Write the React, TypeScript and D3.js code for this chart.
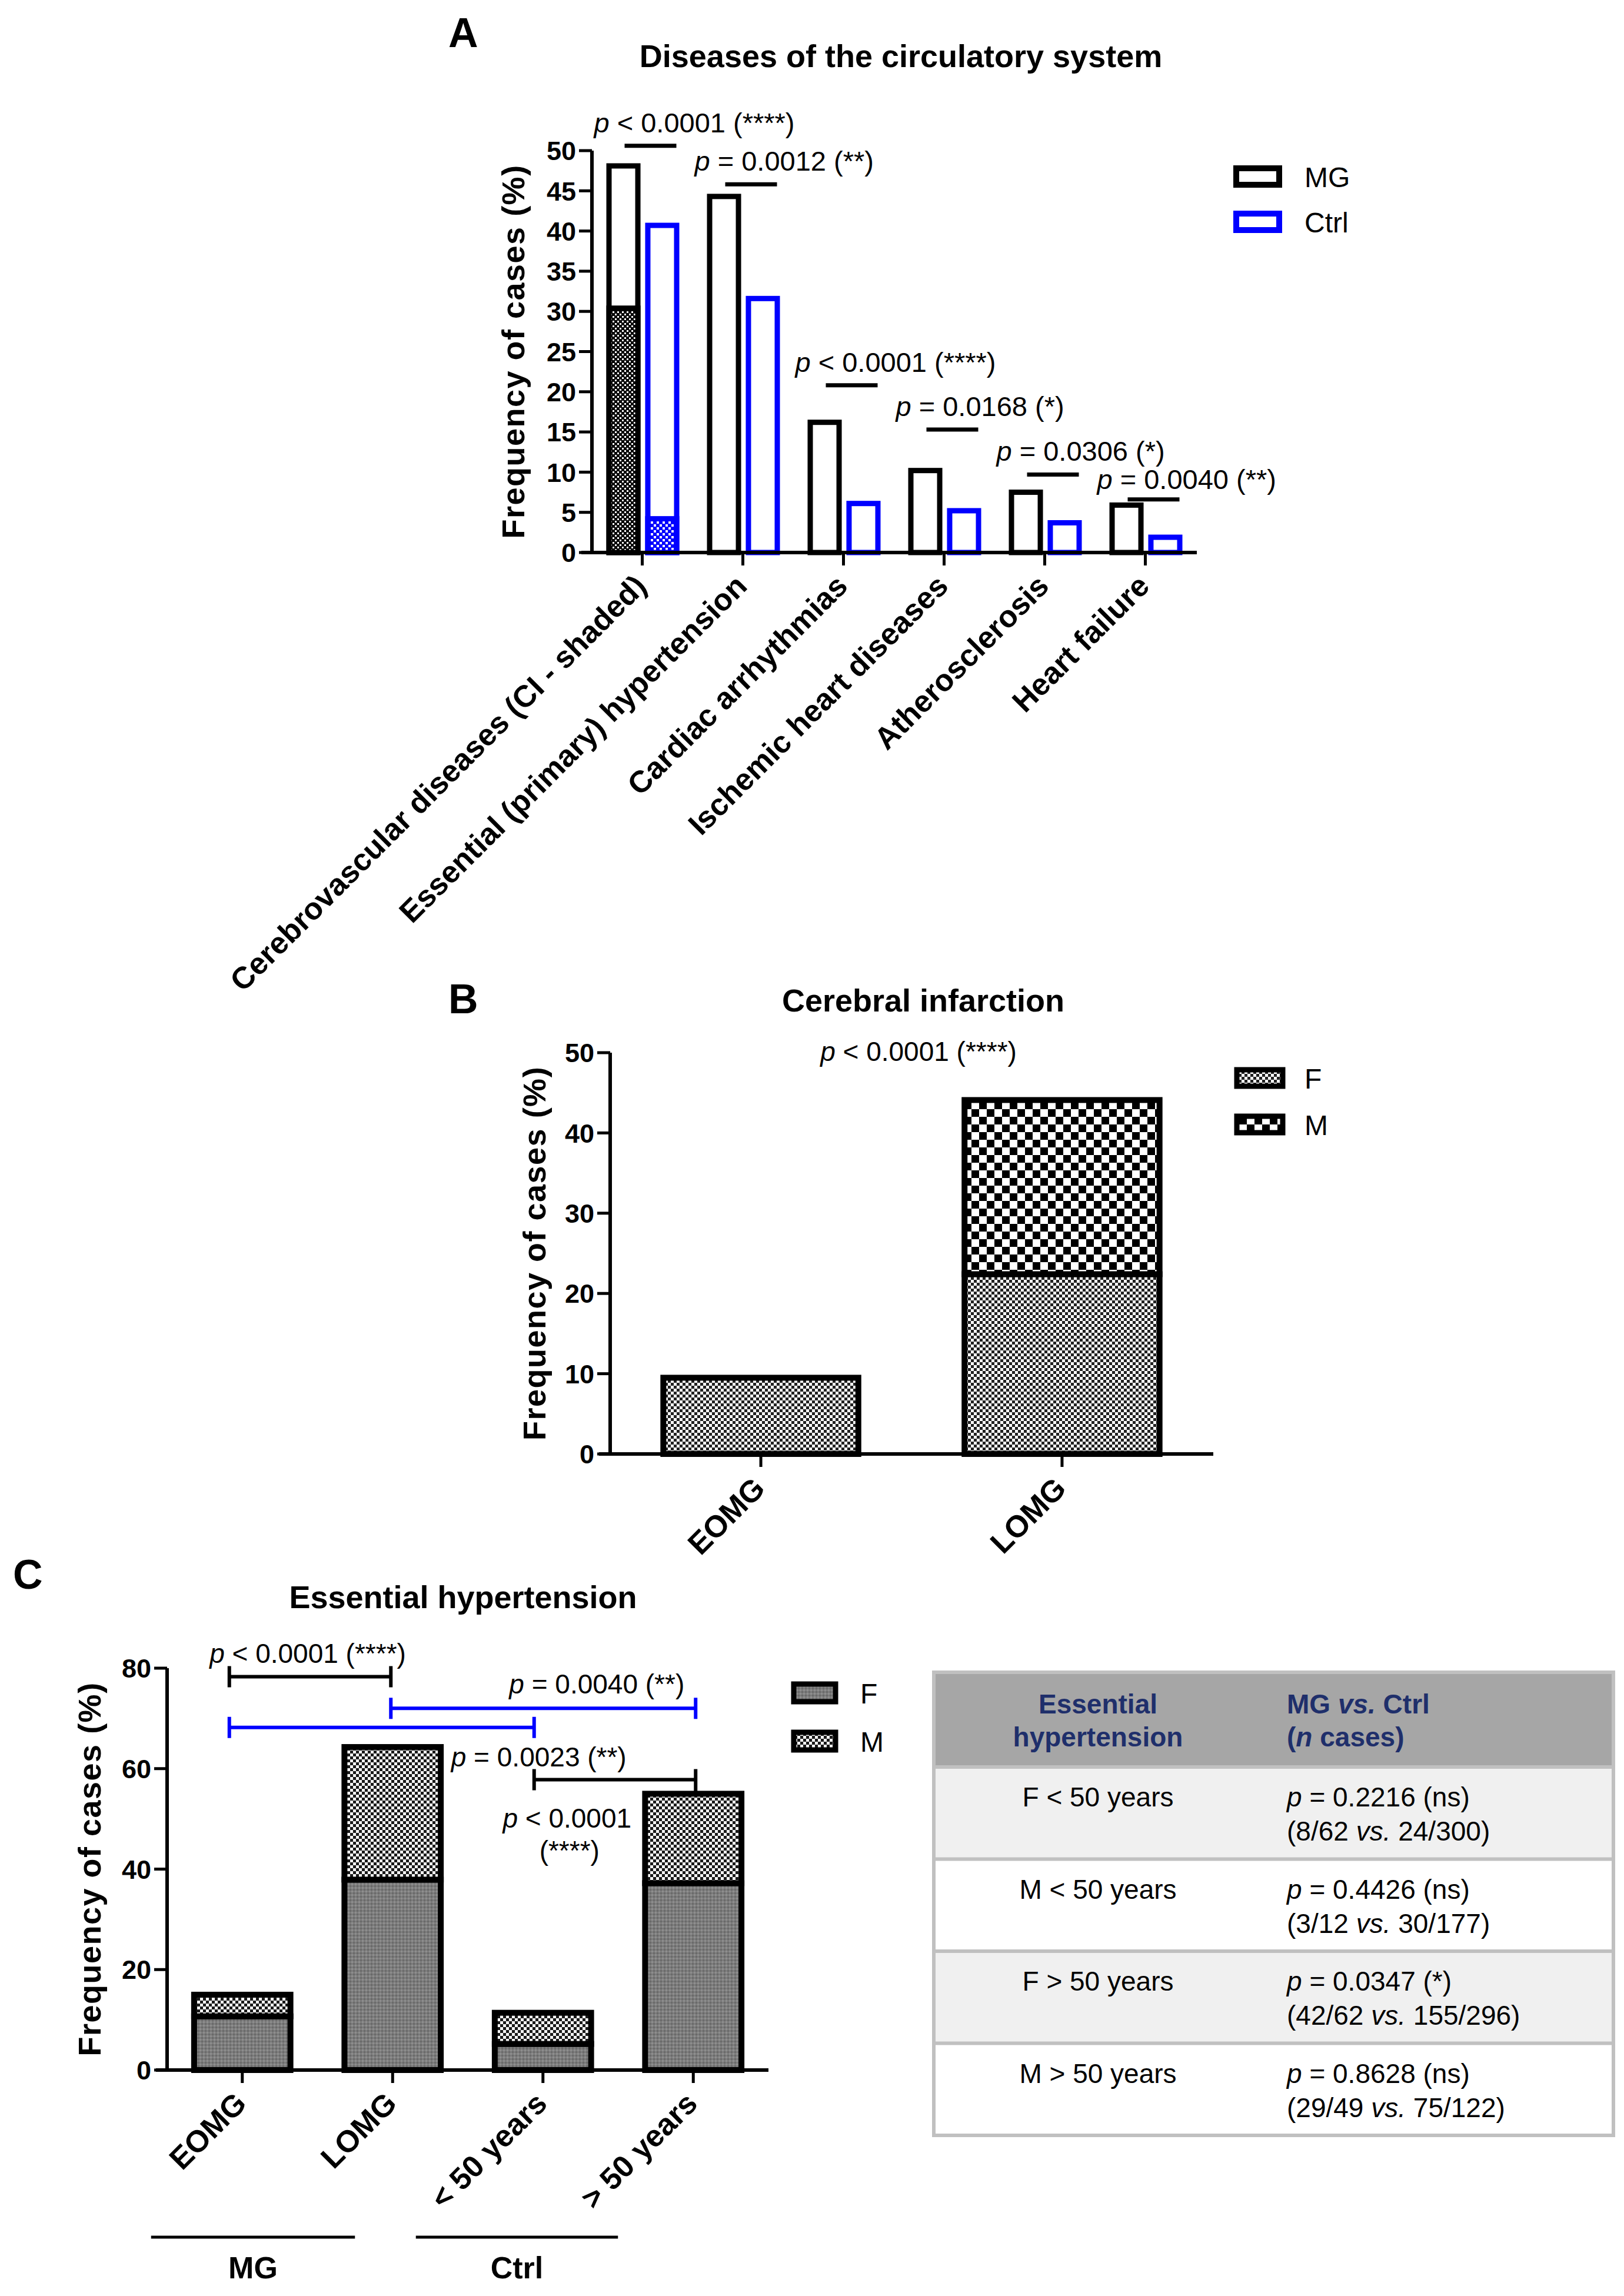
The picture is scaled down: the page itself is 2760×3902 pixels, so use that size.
import React from "react";
import * as d3 from "d3";

// ---------------- Panel A data ----------------
const diseaseCategories = [
  "Cerebrovascular diseases (CI - shaded)",
  "Essential (primary) hypertension",
  "Cardiac arrhythmias",
  "Ischemic heart diseases",
  "Atherosclerosis",
  "Heart failure",
];
const seriesA = ["MG", "Ctrl"];
const mgFrequency = [48.1, 44.3, 16.2, 10.2, 7.5, 5.9];
const ctrlFrequency = [40.7, 31.6, 6.1, 5.2, 3.7, 1.9];
const ciShadedMG = 30.4;
const ciShadedCtrl = 4.2;
const pTextA = ["< 0.0001 (****)", "= 0.0012 (**)", "< 0.0001 (****)", "= 0.0168 (*)", "= 0.0306 (*)", "= 0.0040 (**)"];
const pLineA = [50.6, 45.8, 20.8, 15.3, 9.7, 6.6];
const ticksA = [0, 5, 10, 15, 20, 25, 30, 35, 40, 45, 50];

// ---------------- Panel B data ----------------
const groupsB = ["EOMG", "LOMG"];
const femaleB = [9.5, 22.4];
const maleB = [0, 21.7];
const ticksB = [0, 10, 20, 30, 40, 50];
const pTextB = "< 0.0001 (****)";
const sexKeys = ["F", "M"];

// ---------------- Panel C data ----------------
const groupsC = ["EOMG", "LOMG", "< 50 years", "> 50 years"];
const femaleC = [10.7, 37.9, 5.2, 37.2];
const maleC = [4.3, 26.4, 6.2, 17.8];
const ticksC = [0, 20, 40, 60, 80];
const bracketFromC = ["EOMG", "LOMG", "EOMG", "< 50 years"];
const bracketToC = ["LOMG", "> 50 years", "< 50 years", "> 50 years"];
const bracketValueC = [78.3, 72.0, 68.2, 57.8];
const bracketTextC = [["< 0.0001 (****)"], ["= 0.0040 (**)"], ["= 0.0023 (**)"], ["< 0.0001", "(****)"]];
const cohortNames = ["MG", "Ctrl"];

// ---------------- Table data ----------------
const tableGroups = ["F < 50 years", "M < 50 years", "F > 50 years", "M > 50 years"];
const tablePValues = ["= 0.2216 (ns)", "= 0.4426 (ns)", "= 0.0347 (*)", "= 0.8628 (ns)"];
const tableMG = ["8/62", "3/12", "42/62", "29/49"];
const tableCtrl = ["24/300", "30/177", "155/296", "75/122"];

const FONT = "'Liberation Sans', Arial, Helvetica, sans-serif";
const BLUE = "#0000ff";

function PText({ x, y, rest, anchor = "start", size = 47 }: any) {
  return (
    <text x={x} y={y} fontSize={size} textAnchor={anchor} fontFamily={FONT} fill="#000">
      <tspan fontStyle="italic">p</tspan>
      <tspan>{" " + rest}</tspan>
    </text>
  );
}

function YAxis({ scale, ticks, x, label, labelX }: any) {
  const [r0, r1] = scale.range();
  return (
    <g>
      <line x1={x} x2={x} y1={r0 + 2} y2={r1} stroke="#000" strokeWidth={6} />
      {ticks.map((t: number) => (
        <g key={t}>
          <line x1={x - 22} x2={x} y1={scale(t)} y2={scale(t)} stroke="#000" strokeWidth={5} />
          <text x={x - 27} y={scale(t)} dy="0.36em" textAnchor="end" fontSize={45} fontWeight="bold" fontFamily={FONT}>
            {t}
          </text>
        </g>
      ))}
      <text
        transform={`translate(${labelX},${(r0 + r1) / 2}) rotate(-90)`}
        textAnchor="middle"
        fontSize={54}
        fontWeight="bold"
        letterSpacing={1.5}
        fontFamily={FONT}
      >
        {label}
      </text>
    </g>
  );
}

export default function App() {
  // ---------- Panel A ----------
  const yA = d3.scaleLinear().domain([0, 50]).range([939, 256]);
  const xA = d3.scaleBand<string>().domain(diseaseCategories).range([1006, 2032]);
  const xSubA = d3.scaleBand<string>().domain(seriesA).range([-61, 63]).paddingInner(0.12);
  const cA = (d: string) => (xA(d) as number) + xA.bandwidth() / 2;
  const swA = 9;

  // ---------- Panel B ----------
  const yB = d3.scaleLinear().domain([0, 50]).range([2471, 1789]);
  const xB = d3.scaleBand<string>().domain(groupsB).range([1037, 2061]).paddingInner(0.333).paddingOuter(0.1667);
  const stackB = d3.stack<any>().keys(sexKeys)(groupsB.map((g, i) => ({ g, F: femaleB[i], M: maleB[i] })));

  // ---------- Panel C ----------
  const yC = d3.scaleLinear().domain([0, 80]).range([3518, 2835]);
  const xC = d3.scaleBand<string>().domain(groupsC).range([284, 1306]).paddingInner(0.32).paddingOuter(0.16);
  const cC = (d: string) => (xC(d) as number) + xC.bandwidth() / 2;
  const stackC = d3.stack<any>().keys(sexKeys)(groupsC.map((g, i) => ({ g, F: femaleC[i], M: maleC[i] })));
  const totalC = groupsC.map((g, i) => femaleC[i] + maleC[i]);
  const bracketEndOffset: any = { EOMG: -22, LOMG: -3, "< 50 years": -15, "> 50 years": 4 };
  const bx = (g: string) => cC(g) + bracketEndOffset[g];

  const patB: any = { F: "url(#pB_F)", M: "url(#pB_M)" };
  const patC: any = { F: "url(#pC_F)", M: "url(#pC_M)" };

  const cohortSpans = [
    [cC("EOMG") - 155, cC("LOMG") - 64],
    [cC("< 50 years") - 216, cC("> 50 years") - 128],
  ];

  const bracketTextLayout = [
    { ref: "mid", dx: -4, dy: -24, anchor: "middle" },
    { ref: "right", dx: -19, dy: -25, anchor: "end" },
    { ref: "right", dx: -141, dy: 66, anchor: "start" },
    { ref: "left", dx: 56, dy: 81, anchor: "middle" },
  ];

  const tX0 = 1587, tX1 = 2742, tY0 = 2842, headH = 161, rowH = 156.5;
  const col1C = 1866, col2L = 2187;

  return (
    <svg
      width={2760}
      height={3902}
      viewBox="0 0 2760 3902"
      style={{ position: "absolute", left: 0, top: 0, background: "#fff" }}
      fontFamily={FONT}
    >
      <defs>
        <pattern id="pA_mg" width="8" height="8" patternUnits="userSpaceOnUse">
          <rect width="8" height="8" fill="#000" />
          <rect x="1" y="1" width="3" height="3" fill="#fff" />
          <rect x="5" y="5" width="3" height="3" fill="#fff" />
        </pattern>
        <pattern id="pA_ctrl" width="10" height="10" patternUnits="userSpaceOnUse">
          <rect width="10" height="10" fill={BLUE} />
          <rect x="1" y="1" width="4" height="4" fill="#fff" />
          <rect x="6" y="6" width="4" height="4" fill="#fff" />
        </pattern>
        <pattern id="pB_F" width="10" height="10" patternUnits="userSpaceOnUse">
          <rect width="10" height="10" fill="#fff" />
          <rect x="0" y="0" width="5" height="5" fill="#222" />
          <rect x="5" y="5" width="5" height="5" fill="#222" />
        </pattern>
        <pattern id="pB_M" width="26" height="26" patternUnits="userSpaceOnUse">
          <rect width="26" height="26" fill="#fff" />
          <rect x="0" y="0" width="13" height="13" fill="#000" />
          <rect x="13" y="13" width="13" height="13" fill="#000" />
        </pattern>
        <pattern id="pC_F" width="6" height="6" patternUnits="userSpaceOnUse">
          <rect width="6" height="6" fill="#7c7c7c" />
          <rect x="0" y="0" width="3" height="3" fill="#6a6a6a" />
          <rect x="3" y="3" width="3" height="3" fill="#8e8e8e" />
        </pattern>
        <pattern id="pC_M" width="10" height="10" patternUnits="userSpaceOnUse">
          <rect width="10" height="10" fill="#f4f4f4" />
          <rect x="0" y="0" width="5" height="5" fill="#1a1a1a" />
          <rect x="5" y="5" width="5" height="5" fill="#1a1a1a" />
        </pattern>
      </defs>
      <rect x={0} y={0} width={2760} height={3902} fill="#fff" />

      {/* ================= Panel A ================= */}
      <text x={762} y={80} fontSize={70} fontWeight="bold">A</text>
      <text x={1531} y={114} fontSize={54} fontWeight="bold" textAnchor="middle">
        Diseases of the circulatory system
      </text>
      {diseaseCategories.map((d, i) => {
        const c = cA(d);
        const vals = [mgFrequency[i], ctrlFrequency[i]];
        return (
          <g key={d}>
            {seriesA.map((s, j) => {
              const x0 = c + (xSubA(s) as number) + swA / 2;
              const w = xSubA.bandwidth() - swA;
              const col = j === 0 ? "#000" : BLUE;
              return (
                <rect key={s} x={x0} y={yA(vals[j])} width={w} height={yA(0) - yA(vals[j])} fill="#fff" stroke={col} strokeWidth={swA} />
              );
            })}
            {i === 0 && (
              <g>
                <rect
                  x={c + (xSubA("MG") as number) + swA / 2}
                  y={yA(ciShadedMG)}
                  width={xSubA.bandwidth() - swA}
                  height={yA(0) - yA(ciShadedMG)}
                  fill="url(#pA_mg)"
                  stroke="#000"
                  strokeWidth={swA}
                />
                <rect
                  x={c + (xSubA("Ctrl") as number) + swA / 2}
                  y={yA(ciShadedCtrl)}
                  width={xSubA.bandwidth() - swA}
                  height={yA(0) - yA(ciShadedCtrl)}
                  fill="url(#pA_ctrl)"
                  stroke={BLUE}
                  strokeWidth={swA}
                />
              </g>
            )}
            <line x1={c - 30} x2={c + 58} y1={yA(pLineA[i])} y2={yA(pLineA[i])} stroke="#000" strokeWidth={7} />
            <PText x={c - 82} y={yA(pLineA[i]) - (i === 5 ? 18 : 23)} rest={pTextA[i]} />
            <line x1={c} x2={c} y1={yA(0)} y2={yA(0) + 22} stroke="#000" strokeWidth={5} />
            <text
              transform={`translate(${c + 10},${yA(0) + 60}) rotate(-45)`}
              textAnchor="end"
              fontSize={52}
              fontWeight="bold"
            >
              {d}
            </text>
          </g>
        );
      })}
      <line x1={988} x2={2034} y1={yA(0)} y2={yA(0)} stroke="#000" strokeWidth={6} />
      <YAxis scale={yA} ticks={ticksA} x={1006} label="Frequency of cases (%)" labelX={891} />
      {seriesA.map((s, j) => (
        <g key={s}>
          <rect x={2101} y={286 + j * 77} width={73} height={28} fill="#fff" stroke={j === 0 ? "#000" : BLUE} strokeWidth={10} />
          <text x={2217} y={318 + j * 77} fontSize={48}>{s}</text>
        </g>
      ))}

      {/* ================= Panel B ================= */}
      <text x={762} y={1722} fontSize={70} fontWeight="bold">B</text>
      <text x={1569} y={1719} fontSize={54} fontWeight="bold" textAnchor="middle">
        Cerebral infarction
      </text>
      {stackB.map((layer) =>
        layer.map((seg, i) =>
          seg[1] - seg[0] > 0 ? (
            <rect
              key={layer.key + i}
              x={(xB(groupsB[i]) as number) + 5}
              y={yB(seg[1])}
              width={xB.bandwidth() - 10}
              height={yB(seg[0]) - yB(seg[1])}
              fill={patB[layer.key]}
              stroke="#000"
              strokeWidth={10}
            />
          ) : null
        )
      )}
      {groupsB.map((g) => {
        const c = (xB(g) as number) + xB.bandwidth() / 2;
        return (
          <g key={g}>
            <line x1={c} x2={c} y1={yB(0)} y2={yB(0) + 22} stroke="#000" strokeWidth={5} />
            <text transform={`translate(${c + 10},${yB(0) + 62}) rotate(-45)`} textAnchor="end" fontSize={52} fontWeight="bold">
              {g}
            </text>
          </g>
        );
      })}
      <line x1={1018} x2={2062} y1={yB(0)} y2={yB(0)} stroke="#000" strokeWidth={6} />
      <YAxis scale={yB} ticks={ticksB} x={1037} label="Frequency of cases (%)" labelX={927} />
      <PText x={1561} y={1803} rest={pTextB} anchor="middle" size={46} />
      {sexKeys.map((k, j) => (
        <g key={k}>
          <rect x={2102} y={1818 + j * 79} width={78} height={28} fill={patB[k]} stroke="#000" strokeWidth={9} />
          <text x={2217} y={1850 + j * 79} fontSize={48}>{k}</text>
        </g>
      ))}

      {/* ================= Panel C ================= */}
      <text x={22} y={2700} fontSize={70} fontWeight="bold">C</text>
      <text x={787} y={2733} fontSize={54} fontWeight="bold" textAnchor="middle">
        Essential hypertension
      </text>
      {stackC.map((layer) =>
        layer.map((seg, i) => (
          <rect
            key={layer.key + i}
            x={(xC(groupsC[i]) as number) + 5}
            y={yC(seg[1])}
            width={xC.bandwidth() - 10}
            height={yC(seg[0]) - yC(seg[1])}
            fill={patC[layer.key]}
            stroke="#000"
            strokeWidth={10}
          />
        ))
      )}
      {groupsC.map((g) => {
        const c = cC(g);
        return (
          <g key={g}>
            <line x1={c} x2={c} y1={yC(0)} y2={yC(0) + 22} stroke="#000" strokeWidth={5} />
            <text transform={`translate(${c + 10},${yC(0) + 60}) rotate(-45)`} textAnchor="end" fontSize={52} fontWeight="bold">
              {g}
            </text>
          </g>
        );
      })}
      <line x1={265} x2={1306} y1={yC(0)} y2={yC(0)} stroke="#000" strokeWidth={6} />
      <YAxis scale={yC} ticks={ticksC} x={284} label="Frequency of cases (%)" labelX={171} />
      {bracketValueC.map((v, i) => {
        const xa = bx(bracketFromC[i]);
        const xb = bx(bracketToC[i]);
        const y = yC(v);
        const col = i === 1 || i === 2 ? BLUE : "#000";
        const L = bracketTextLayout[i];
        const refX = L.ref === "mid" ? (xa + xb) / 2 : L.ref === "right" ? xb : xa;
        const rightBottom = i === 3 ? yC(totalC[groupsC.indexOf(bracketToC[i])]) : y + 18;
        return (
          <g key={i}>
            <line x1={xa} x2={xb} y1={y} y2={y} stroke={col} strokeWidth={6} />
            <line x1={xa} x2={xa} y1={y - 18} y2={y + 18} stroke={col} strokeWidth={6} />
            <line x1={xb} x2={xb} y1={y - 18} y2={rightBottom} stroke={col} strokeWidth={6} />
            {bracketTextC[i].map((t, k) =>
              k === 0 ? (
                <PText key={k} x={refX + L.dx} y={y + L.dy} rest={t} anchor={L.anchor} size={46} />
              ) : (
                <text key={k} x={refX + L.dx + 4} y={y + L.dy + 55} fontSize={46} textAnchor="middle">
                  {t}
                </text>
              )
            )}
          </g>
        );
      })}
      {sexKeys.map((k, j) => (
        <g key={k}>
          <rect x={1349} y={2862 + j * 82} width={71} height={30} fill={patC[k]} stroke="#000" strokeWidth={9} />
          <text x={1462} y={2895 + j * 82} fontSize={48}>{k}</text>
        </g>
      ))}
      {cohortNames.map((n, i) => (
        <g key={n}>
          <line x1={cohortSpans[i][0]} x2={cohortSpans[i][1]} y1={3802} y2={3802} stroke="#000" strokeWidth={5} />
          <text x={(cohortSpans[i][0] + cohortSpans[i][1]) / 2} y={3872} fontSize={52} fontWeight="bold" textAnchor="middle">
            {n}
          </text>
        </g>
      ))}

      {/* ================= Table ================= */}
      <rect x={tX0} y={tY0} width={tX1 - tX0} height={headH} fill="#a6a6a6" />
      {tableGroups.map((g, i) => (
        <rect key={g} x={tX0} y={tY0 + headH + i * rowH} width={tX1 - tX0} height={rowH} fill={i % 2 === 0 ? "#f0f0f0" : "#fff"} />
      ))}
      {tableGroups.map((g, i) => (
        <line key={"l" + i} x1={tX0} x2={tX1} y1={tY0 + headH + i * rowH} y2={tY0 + headH + i * rowH} stroke="#c0c0c0" strokeWidth={6} />
      ))}
      <rect x={tX0} y={tY0} width={tX1 - tX0} height={headH + 4 * rowH} fill="none" stroke="#c0c0c0" strokeWidth={6} />
      <text x={col1C} y={2912} fontSize={46} fontWeight="bold" fill="#1f2f6b" textAnchor="middle">Essential</text>
      <text x={col1C} y={2968} fontSize={46} fontWeight="bold" fill="#1f2f6b" textAnchor="middle">hypertension</text>
      <text x={col2L} y={2912} fontSize={46} fontWeight="bold" fill="#1f2f6b">
        MG <tspan fontStyle="italic">vs.</tspan> Ctrl
      </text>
      <text x={col2L} y={2968} fontSize={46} fontWeight="bold" fill="#1f2f6b">
        (<tspan fontStyle="italic">n</tspan> cases)
      </text>
      {tableGroups.map((g, i) => {
        const top = tY0 + headH + i * rowH;
        return (
          <g key={"r" + g}>
            <text x={col1C} y={top + 67} fontSize={46} textAnchor="middle">{g}</text>
            <text x={col2L} y={top + 67} fontSize={46}>
              <tspan fontStyle="italic">p</tspan> {tablePValues[i]}
            </text>
            <text x={col2L} y={top + 125} fontSize={46}>
              ({tableMG[i]} <tspan fontStyle="italic">vs.</tspan> {tableCtrl[i]})
            </text>
          </g>
        );
      })}
    </svg>
  );
}
